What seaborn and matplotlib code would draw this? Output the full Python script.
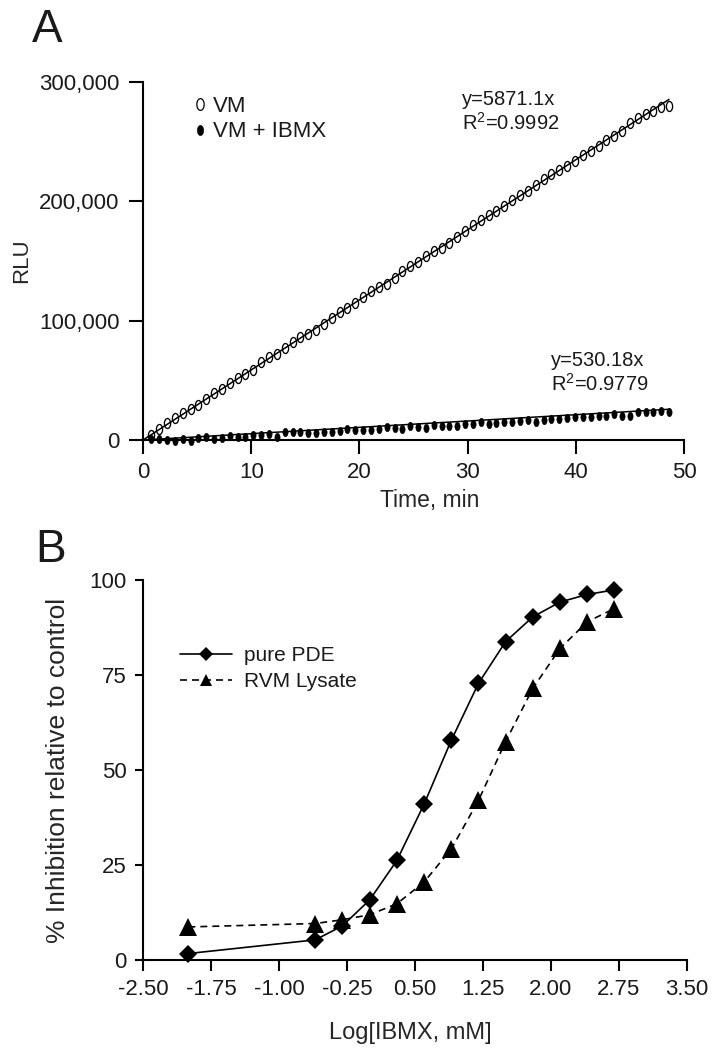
import numpy as np
import matplotlib
matplotlib.use("Agg")
import matplotlib.pyplot as plt
from matplotlib.path import Path
from matplotlib.lines import Line2D
from matplotlib.ticker import FuncFormatter
import seaborn as sns

# ---------------- data: panel A ----------------
time_min = [0.77, 1.50, 2.22, 2.95, 3.67, 4.40, 5.12, 5.85, 6.57, 7.30, 8.02, 8.75,
            9.47, 10.20, 10.92, 11.65, 12.37, 13.10, 13.82, 14.55, 15.27, 16.00, 16.72,
            17.45, 18.17, 18.90, 19.62, 20.35, 21.07, 21.80, 22.52, 23.25, 23.97, 24.70,
            25.42, 26.15, 26.87, 27.60, 28.32, 29.05, 29.77, 30.50, 31.22, 31.95, 32.67,
            33.40, 34.12, 34.85, 35.57, 36.30, 37.02, 37.75, 38.47, 39.20, 39.92, 40.65,
            41.37, 42.10, 42.82, 43.55, 44.27, 45.00, 45.72, 46.45, 47.17, 47.90, 48.62]
vm_rlu = [4200, 9500, 14000, 18500, 22500, 26000, 29500, 34000, 39500, 43000, 47500,
          52000, 55000, 59000, 65000, 69500, 72000, 77500, 82000, 86500, 89000, 92500,
          97500, 102000, 107500, 110500, 114500, 120000, 124500, 128000, 131000, 136000,
          141500, 145500, 149000, 154500, 158500, 161000, 165500, 170000, 175500, 180000,
          184000, 188500, 192000, 196500, 201000, 205500, 209000, 214000, 218500, 222500,
          226000, 230000, 234000, 238500, 242500, 246500, 251000, 255000, 259000, 266000,
          270000, 273000, 276000, 279000, 280000]
vm_ibmx_rlu = [500, 1000, -300, -500, 500, -800, 1500, 2300, 1000, 1500, 3200, 2500,
               2800, 4000, 4500, 5200, 2800, 6300, 6500, 6500, 6200, 5500, 6300, 7000,
               7200, 9500, 8300, 8000, 8500, 9000, 10800, 10000, 9300, 11500, 11300,
               10000, 12300, 12000, 11800, 12000, 13000, 13500, 14800, 13500, 14500,
               15000, 15200, 16300, 16800, 15500, 16500, 17500, 18000, 18300, 19000,
               19000, 19500, 20300, 19800, 21500, 20300, 19800, 23500, 23800, 23300,
               24500, 23500]
slope_vm = 5871.1
slope_ibmx = 530.18
fit_labels = ["y=5871.1x\nR$^{2}$=0.9992", "y=530.18x\nR$^{2}$=0.9779"]
series_a = ["VM", "VM + IBMX"]

# ---------------- data: panel B ----------------
log_ibmx = [-2.0, -0.6, -0.3, 0.0, 0.3, 0.6, 0.9, 1.2, 1.5, 1.8, 2.1, 2.4, 2.7]
pure_pde = [1.7, 5.3, 9.0, 15.8, 26.2, 41.0, 57.8, 72.8, 83.8, 90.3, 94.2, 96.2, 97.4]
rvm_lysate = [8.7, 9.6, 10.6, 11.9, 14.8, 20.5, 29.2, 42.0, 57.5, 71.5, 82.0, 89.0, 92.5]
series_b = ["pure PDE", "RVM Lysate"]
xticks_b = [-2.50, -1.75, -1.00, -0.25, 0.50, 1.25, 2.00, 2.75, 3.50]
yticks_b = [0, 25, 50, 75, 100]
xticks_a = [0, 10, 20, 30, 40, 50]
yticks_a = [0, 100000, 200000, 300000]

# ---------------- style ----------------
sns.set_theme(style="ticks")
plt.rcParams["font.family"] = ["Liberation Sans", "DejaVu Sans"]
plt.rcParams["mathtext.fontset"] = "custom"
plt.rcParams["mathtext.rm"] = "Liberation Sans"
plt.rcParams["mathtext.it"] = "Liberation Sans"
plt.rcParams["axes.linewidth"] = 1.5
plt.rcParams["text.color"] = "#1a1a1a"

W, H = 718, 1050
fig = plt.figure(figsize=(W / 100, H / 100), dpi=100)

th = np.linspace(0, 2 * np.pi, 40)
ellipse = Path(np.column_stack([0.62 * np.cos(th), np.sin(th)]), closed=True)

# ---------------- panel A ----------------
axA = fig.add_axes([143 / W, (H - 440) / H, (684 - 143) / W, (440 - 82) / H])
t = np.array(time_min)
fit_x = [0, t[-1]]
sns.lineplot(x=fit_x, y=[0, slope_vm * t[-1]], ax=axA, color="black", lw=1.1, zorder=3)
sns.lineplot(x=fit_x, y=[0, slope_ibmx * t[-1]], ax=axA, color="black", lw=1.1, zorder=3)
sns.lineplot(x=time_min, y=vm_rlu, ax=axA, estimator=None, linestyle="none",
             marker=ellipse, markersize=7.2, markerfacecolor="none",
             markeredgecolor="black", markeredgewidth=0.95, color="black",
             clip_on=False, zorder=4)
sns.lineplot(x=time_min, y=vm_ibmx_rlu, ax=axA, estimator=None, linestyle="none",
             marker=ellipse, markersize=6.2, markerfacecolor="black",
             markeredgecolor="black", markeredgewidth=0.3, color="black",
             clip_on=False, zorder=4)
axA.set_xlim(0, 50)
axA.set_ylim(0, 300000)
axA.set_xticks(xticks_a)
axA.set_yticks(yticks_a)
axA.yaxis.set_major_formatter(FuncFormatter(lambda v, p: f"{v:,.0f}"))
axA.tick_params(axis="both", direction="out", length=10, width=1.5, colors="black",
                labelsize=16, labelcolor="#1a1a1a", pad=7)
axA.tick_params(axis="x", pad=6)
for s in ["top", "right"]:
    axA.spines[s].set_visible(False)
for s in ["left", "bottom"]:
    axA.spines[s].set_color("black")
axA.set_xlabel("Time, min", fontsize=16.5)
axA.set_ylabel("RLU", fontsize=16)
axA.xaxis.set_label_coords(0.53, -0.137)
axA.yaxis.set_label_coords(-0.205, 0.5)
axA.text(29.5, 275000, fit_labels[0], fontsize=14.5, va="center", ha="left",
         linespacing=1.15)
axA.text(37.7, 56000, fit_labels[1], fontsize=14.5, va="center", ha="left",
         linespacing=1.15)

hA = [Line2D([], [], ls="none", marker=ellipse, ms=8.5, mfc="none", mec="black", mew=0.9),
      Line2D([], [], ls="none", marker=ellipse, ms=7.5, mfc="black", mec="black", mew=0.3)]
axA.legend(hA, series_a, loc="upper left", bbox_to_anchor=(193 / W, 1 - 96 / H),
           bbox_transform=fig.transFigure, frameon=False, fontsize=16,
           handlelength=0.6, handletextpad=0.28, labelspacing=0.2,
           borderpad=0, borderaxespad=0)

# ---------------- panel B ----------------
axB = fig.add_axes([143 / W, (H - 960) / H, (687 - 143) / W, (960 - 580) / H])
dash = (0, (4.2, 3))
sns.lineplot(x=log_ibmx, y=pure_pde, ax=axB, estimator=None, color="black", lw=1.2,
             marker="D", markersize=9.5, markeredgewidth=0, markerfacecolor="black",
             clip_on=False, zorder=4)
sns.lineplot(x=log_ibmx, y=rvm_lysate, ax=axB, estimator=None, color="black", lw=1.2,
             linestyle=dash, marker="^", markersize=12.5, markeredgewidth=0,
             markerfacecolor="black", clip_on=False, zorder=3)
axB.set_xlim(-2.5, 3.5)
axB.set_ylim(0, 100)
axB.set_xticks(xticks_b)
axB.set_xticklabels([f"{v:.2f}" for v in xticks_b])
axB.set_yticks(yticks_b)
axB.tick_params(axis="both", direction="out", width=1.5, colors="black",
                labelsize=16, labelcolor="#1a1a1a")
axB.tick_params(axis="x", length=8, pad=6)
axB.tick_params(axis="y", length=6, pad=6)
for s in ["top", "right"]:
    axB.spines[s].set_visible(False)
for s in ["left", "bottom"]:
    axB.spines[s].set_color("black")
axB.set_xlabel("Log[IBMX, mM]", fontsize=17)
axB.set_ylabel("% Inhibition relative to control", fontsize=19)
axB.xaxis.set_label_coords(0.491, -0.163)
axB.yaxis.set_label_coords(-0.134, 0.5)

hB = [Line2D([], [], color="black", lw=1.2, marker="D", ms=7, mew=0),
      Line2D([], [], color="black", lw=1.2, ls=dash, marker="^", ms=8.5, mew=0)]
axB.legend(hB, series_b, loc="upper left", bbox_to_anchor=(180 / W, 1 - 646 / H),
           bbox_transform=fig.transFigure, frameon=False, fontsize=15,
           handlelength=2.5, handletextpad=0.55, labelspacing=0.35,
           borderpad=0, borderaxespad=0)

fig.text(32 / W, 1 - 42 / H, "A", fontsize=33, ha="left", va="baseline", color="#1a1a1a")
fig.text(35 / W, 1 - 562 / H, "B", fontsize=33, ha="left", va="baseline", color="#1a1a1a")

fig.savefig("out.png", dpi=100)
